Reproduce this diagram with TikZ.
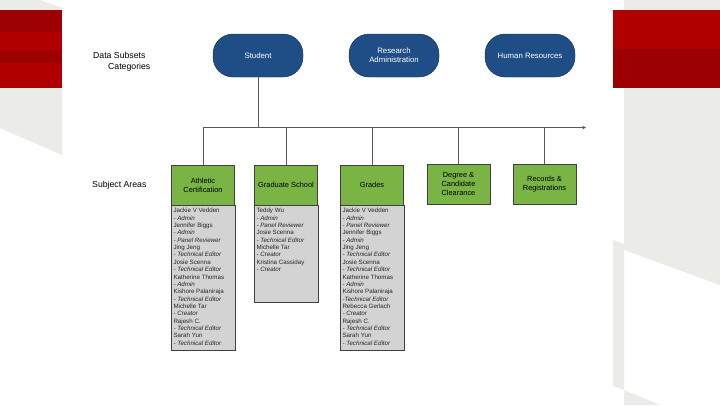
\documentclass[tikz,border=0pt]{standalone}
\usepackage{fontspec}
\setmainfont{Liberation Sans}
\usetikzlibrary{calc}

\definecolor{subsetblue}{HTML}{1F4E86}
\definecolor{areagreen}{HTML}{79B445}
\definecolor{listgray}{HTML}{D3D3D3}
\definecolor{slidered}{HTML}{B00000}
\definecolor{slidereddk}{HTML}{9D0000}
\definecolor{slidegray}{HTML}{EBEBE8}

\tikzset{
	subset/.style={draw=subsetblue!60!black, fill=subsetblue, rounded corners=20pt, minimum width=90pt, minimum height=43pt, text=white, align=center, font=\fontsize{7.8}{9}\selectfont},
	area/.style={draw=black!75, fill=areagreen, minimum width=63pt, minimum height=40pt, inner sep=1pt, align=center, font=\fontsize{7.4}{9}\selectfont},
	members/.style={draw=black!75, fill=listgray},
	memtext/.style={anchor=north west, align=left, inner sep=0pt, text=black!85, font=\fontsize{6.2}{7.35}\selectfont},
	label/.style={anchor=west, inner sep=0pt, font=\fontsize{8.7}{10}\selectfont},
	link/.style={draw=black!65, line width=0.7pt}
}
\newcommand{\role}[1]{\textit{#1}}

\begin{document}
\begin{tikzpicture}[x=1pt,y=-1pt]
		\useasboundingbox (0,0) rectangle (720,405);
		\fill[white] (0,0) rectangle (720,405);
		% slide decoration
		\fill[slidegray] (0,0) -- (40,0) -- (62,8) -- (62,155) -- (0,128) -- cycle;
		\fill[slidegray] (624,0) -- (720,0) -- (720,285) -- (624,250) -- cycle;
		\fill[slidegray] (613,240) -- (624,244) -- (624,390) -- (613,386) -- cycle;
		\fill[slidegray] (624,390) -- (660,405) -- (624,405) -- cycle;
		\fill[slidered] (0,10) rectangle (62,88);
		\fill[slidereddk] (0,10) rectangle (62,32);
		\fill[slidereddk] (0,50) rectangle (62,63);
		\fill[slidered] (613,10) rectangle (720,49);
		\fill[slidereddk] (613,49) rectangle (720,88);

		\node[label] (subsetsLbl) at (93,55) {Data Subsets};
		\node[label] (catLbl) at (108,67) {Categories};
		\node[label] (areasLbl) at (92,185) {Subject Areas};

		\node[subset] (student) at (258,55.5) {Student};
		\node[subset] (research) at (394,55.5) {Research\\Administration};
		\node[subset] (hr) at (530,55.5) {Human Resources};

		\coordinate (busL) at (203,127.5);
		\coordinate (busR) at (586,127.5);
		\draw[link,-stealth] (busL) -- (busR);
		\draw[link] (student.south) -- (student.south |- busL);

		\node[area] (athl) at (203,185) {Athletic\\Certification};
		\node[area] (grad) at (286,185) {Graduate School};
		\node[area] (grades) at (372,185) {Grades};
		\node[area] (degree) at (458.5,184) {Degree \&\\Candidate\\Clearance};
		\node[area] (records) at (544.5,184) {Records \&\\Registrations};

		\draw[link] (athl.north) -- (busL);
		\draw[link] (grad.north) -- (grad.north |- busL);
		\draw[link] (grades.north) -- (grades.north |- busL);
		\draw[link] (degree.north) -- (degree.north |- busL);
		\draw[link] (records.north) -- (records.north |- busL);

		\draw[members] (athl.south west) rectangle ($(athl.south east)+(0,145)$);
		\draw[members] (grad.south west) rectangle ($(grad.south east)+(0,97)$);
		\draw[members] (grades.south west) rectangle ($(grades.south east)+(0,145)$);

		\node[memtext] (athlList) at ($(athl.south west)+(2,3)$) {Jackie V Vedden\\ \role{- Admin}\\Jennifer Biggs\\ \role{- Admin}\\ \role{- Panel Reviewer}\\Jing Jeng\\ \role{- Technical Editor}\\Josie Scenna\\ \role{- Technical Editor}\\Katherine Thomas\\ \role{- Admin}\\Kishore Palaniraja\\ \role{- Technical Editor}\\Michelle Tar\\ \role{- Creator}\\Rajesh C.\\ \role{- Technical Editor}\\Sarah Yun\\ \role{- Technical Editor}};
		\node[memtext] (gradList) at ($(grad.south west)+(2,3)$) {Teddy Wu\\ \role{- Admin}\\ \role{- Panel Reviewer}\\Josie Scenna\\ \role{- Technical Editor}\\Michelle Tar\\ \role{- Creator}\\Kristina Cassiday\\ \role{- Creator}};
		\node[memtext] (gradesList) at ($(grades.south west)+(2,3)$) {Jackie V Vedden\\ \role{- Admin}\\ \role{- Panel Reviewer}\\Jennifer Biggs\\ \role{- Admin}\\Jing Jeng\\ \role{- Technical Editor}\\Josie Scenna\\ \role{- Technical Editor}\\Katherine Thomas\\ \role{- Admin}\\Kishore Palaniraja\\ \role{-Technical Editor}\\Rebecca Gerlach\\ \role{- Creator}\\Rajesh C.\\ \role{- Technical Editor}\\Sarah Yun\\ \role{- Technical Editor}};
	\end{tikzpicture}
\end{document}
